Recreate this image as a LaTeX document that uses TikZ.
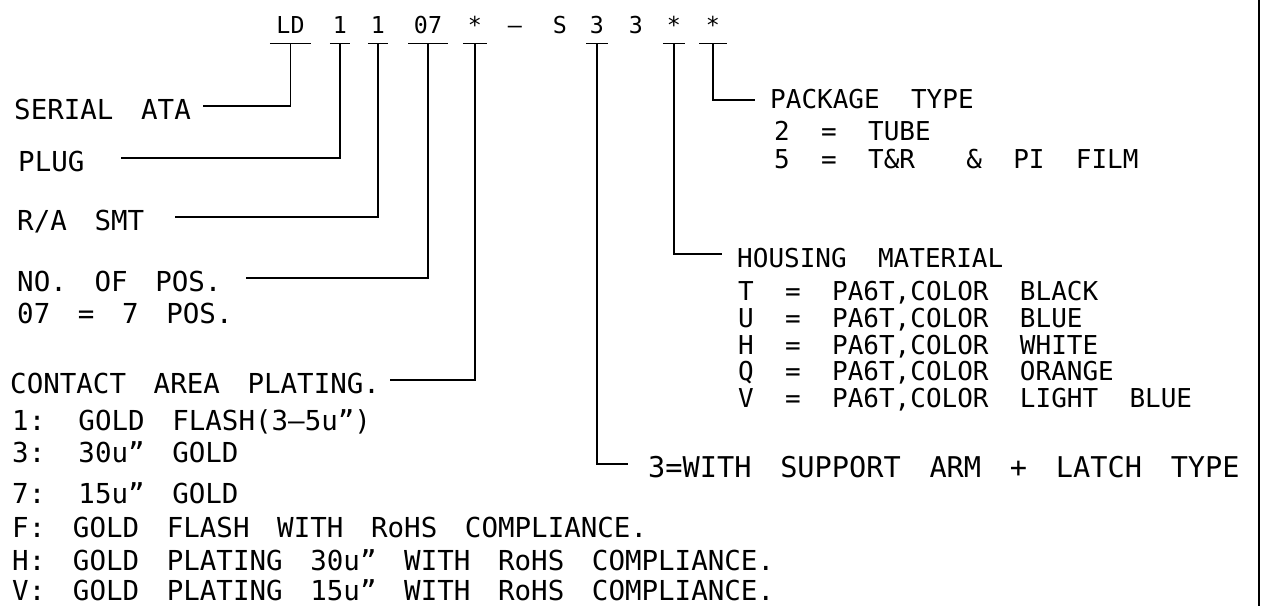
\documentclass[tikz,border=0pt]{standalone}
\usepackage{fontspec}
\setmainfont[WordSpace=1.67]{DejaVu Sans Mono}
\newfontfamily\housfont[WordSpace=2.0]{DejaVu Sans Mono}
\newcommand\szlbl{\fontsize{27.5}{32}\selectfont}
\newcommand\szbig{\fontsize{28.6}{32}\selectfont}
\newcommand\szhous{\housfont\fontsize{26}{30}\selectfont}
\newcommand\szcode{\fontsize{23.3}{28}\selectfont}
\newcommand\labw[2]{\makebox[#1pt][l]{#2}}
\begin{document}
\begin{tikzpicture}[x=1pt,y=-1pt,
  ln/.style={line width=1.2pt},
  code/.style={font=\szcode, anchor=base, inner sep=0pt, text depth=10pt},
  lbl/.style={font=\szlbl, anchor=base west, inner sep=0pt, text height=26pt, text depth=0pt},
  hlbl/.style={lbl, font=\szhous},
  sub/.style={text height=18pt}]
\useasboundingbox (0,0) rectangle (1263,606);

% part number code
\node[code, minimum width=41pt] (c1) at (290.5,33) {LD};
\node[code, minimum width=20pt] (c2) at (340,33) {1};
\node[code, minimum width=20pt] (c3) at (378,33) {1};
\node[code, minimum width=39pt] (c4) at (428,33) {07};
\node[code, minimum width=24pt] (c5) at (475,33) {*};
\node[code] (cd) at (515,33) {–};
\node[code] (cs) at (560,33) {S};
\node[code, minimum width=21pt] (c6) at (597,33) {3};
\node[code] (c3b) at (636,33) {3};
\node[code, minimum width=22pt] (c7) at (674,33) {*};
\node[code, minimum width=27pt] (c8) at (713,33) {*};

% left labels
\node[lbl] (l1) at (14,119) {\labw{189}{SERIAL ATA}};
\node[lbl] (l2) at (18,171) {\labw{103}{PLUG}};
\node[lbl] (l3) at (17,230) {\labw{158}{R/A SMT}};
\node[lbl] (l4) at (17,291) {\labw{229}{NO.\ OF POS.}};
\node[lbl, sub] (l4b) at (17,323) {07 = 7 POS.};
\node[lbl] (l5) at (10,393) {\labw{380}{CONTACT AREA PLATING.}};
\node[lbl, sub] (p1) at (12,430) {1: GOLD FLASH(3–5u”)};
\node[lbl, sub] (p2) at (12,462) {3: 30u” GOLD};
\node[lbl, sub] (p3) at (12,503) {7: 15u” GOLD};
\node[lbl, sub] (p4) at (12,537) {F: GOLD FLASH WITH RoHS COMPLIANCE.};
\node[lbl, sub] (p5) at (12,570) {H: GOLD PLATING 30u” WITH RoHS COMPLIANCE.};
\node[lbl, sub] (p6) at (12,600) {V: GOLD PLATING 15u” WITH RoHS COMPLIANCE.};

% right labels
\node[hlbl, inner xsep=15pt, text height=16pt] (l8) at (755,108) {PACKAGE TYPE};
\node[hlbl, sub] (k1) at (774,140) {2 = TUBE};
\node[hlbl, sub] (k2) at (774,168) {5 = T\&R\hspace{20pt} \& PI FILM};

\node[hlbl, inner xsep=15pt] (l7) at (722,267) {HOUSING MATERIAL};
\node[hlbl, sub] (h1) at (738,300) {T = PA6T,COLOR BLACK};
\node[hlbl, sub] (h2) at (738,327) {U = PA6T,COLOR BLUE};
\node[hlbl, sub] (h3) at (738,354) {H = PA6T,COLOR WHITE};
\node[hlbl, sub] (h4) at (738,380) {Q = PA6T,COLOR ORANGE};
\node[hlbl, sub] (h5) at (738,407) {V = PA6T,COLOR LIGHT BLUE};

\node[lbl, font=\szbig, inner xsep=20pt] (l6) at (628,477) {3=WITH SUPPORT ARM + LATCH TYPE};

% underlines
\foreach \c in {c1,c2,c3,c4,c5,c6,c7,c8}
  \draw[ln] (\c.south west) -- (\c.south east);

% connectors
\draw[ln] (c1.south) |- (l1.east);
\draw[ln] (c2.south) |- (l2.east);
\draw[ln] (c3.south) |- (l3.east);
\draw[ln] (c4.south) |- (l4.east);
\draw[ln] (c5.south) |- (l5.east);
\draw[ln] (c6.south) |- (l6.west);
\draw[ln] (c7.south) |- (l7.west);
\draw[ln] (c8.south) |- (l8.west);

% right border
\coordinate (bt) at (1259,0);
\coordinate (bb) at (1259,606);
\draw[line width=2.4pt] (bt) -- (bb);
\end{tikzpicture}
\end{document}
